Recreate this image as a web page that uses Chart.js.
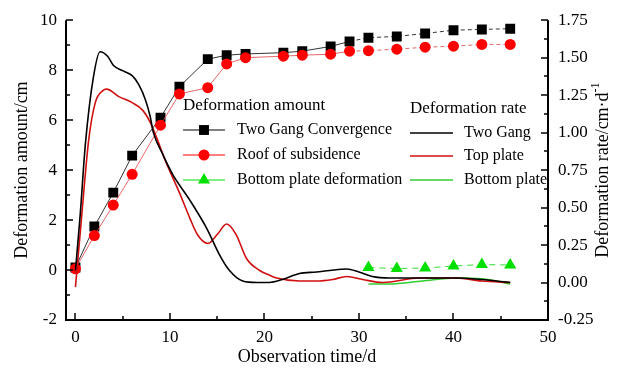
<!DOCTYPE html>
<html>
<head>
<meta charset="utf-8">
<script src="https://cdn.jsdelivr.net/npm/chart.js@4.4.0/dist/chart.umd.min.js"></script>
<style>
  html, body { margin: 0; padding: 0; background: #fff; }
  #wrap { width: 621px; height: 373px; }
</style>
</head>
<body>
<div id="wrap"><canvas id="c" width="621" height="373"></canvas></div>
<script>
// measured deformation amount (left axis, cm)
var days = [0, 2, 4, 6, 9, 11, 14, 16, 18, 22, 24, 27, 29, 31, 34, 37, 40, 43, 46];
var twoGang = [0.1, 1.74, 3.1, 4.58, 6.1, 7.34, 8.44, 8.6, 8.65, 8.7, 8.76, 8.95, 9.15, 9.3, 9.35, 9.47, 9.6, 9.63, 9.66];
var roof = [0.05, 1.38, 2.6, 3.83, 5.8, 7.05, 7.3, 8.25, 8.5, 8.56, 8.6, 8.64, 8.76, 8.78, 8.84, 8.92, 8.96, 9.03, 9.03];
var bottomDays = [31, 34, 37, 40, 43, 46];
var bottomAmt = [0.1, 0.06, 0.08, 0.16, 0.22, 0.2];

// deformation rate curves (right axis, cm/d)
var gangRateDays = [0, 0.5, 1.06, 1.9, 2.6, 3.4, 4.0, 5.1, 6.0, 6.7, 7.4, 7.9, 8.25, 9.2, 10.3, 12.1, 13.9, 15.2, 16.3, 17.7, 19.2, 20.5, 21.9, 23.7, 25.5, 26.9, 28.7, 30, 31.4, 33.2, 36.7, 40.3, 43, 46];
var gangRate = [0.08, 0.45, 0.93, 1.37, 1.54, 1.51, 1.45, 1.41, 1.38, 1.32, 1.22, 1.11, 1.0, 0.86, 0.72, 0.55, 0.36, 0.19, 0.08, 0.01, 0.0, 0.0, 0.02, 0.06, 0.07, 0.08, 0.09, 0.07, 0.04, 0.03, 0.03, 0.03, 0.02, 0.0];
var topRateDays = [0, 0.6, 1.4, 2.1, 2.9, 3.3, 4.6, 6.0, 7.1, 7.9, 8.5, 9.6, 11, 12.1, 12.9, 14, 15, 16, 17, 18.1, 19.5, 20.5, 21.3, 23.7, 25.5, 27.2, 28.7, 30.4, 32.5, 36.4, 40.3, 43, 46];
var topRate = [-0.03, 0.4, 0.95, 1.2, 1.28, 1.29, 1.24, 1.2, 1.15, 1.07, 0.98, 0.8, 0.6, 0.43, 0.32, 0.26, 0.32, 0.39, 0.32, 0.16, 0.08, 0.05, 0.03, 0.01, 0.01, 0.02, 0.04, 0.02, 0.0, 0.03, 0.03, 0.01, 0.0];
var botRateDays = [31, 33.2, 36.7, 40.3, 43, 46];
var botRate = [-0.01, -0.01, 0.01, 0.03, 0.025, -0.01];

// tick labels
var xTicks = [0, 10, 20, 30, 40, 50];
var yTicks = [-2, 0, 2, 4, 6, 8, 10];
var rateTicks = [-0.25, 0, 0.25, 0.5, 0.75, 1, 1.25, 1.5, 1.75];

var SERIF = '"Liberation Serif", "Times New Roman", serif';

function pts(xs, ys) {
    return xs.map(function (x, i) { return { x: x, y: ys[i] }; });
}

function setTicks(arr) {
    return function (scale) {
        scale.ticks = arr.map(function (v) { return { value: v }; });
    };
}

// axes with inward major/minor ticks, titles and the two legend blocks
var decor = {
    id: 'decor',
    afterDraw: function (chart) {
        var ctx = chart.ctx, a = chart.chartArea;
        var x = chart.scales.x, y = chart.scales.y, r = chart.scales.y1;
        ctx.save();
        ctx.strokeStyle = '#000';
        ctx.lineWidth = 2;
        ctx.beginPath();
        ctx.moveTo(a.left, a.top); ctx.lineTo(a.left, a.bottom); ctx.lineTo(a.right, a.bottom); ctx.lineTo(a.right, a.top);
        ctx.stroke();
        ctx.lineWidth = 1.5;
        ctx.beginPath();
        var v, p;
        for (v = -2; v <= 10; v += 1) {
            p = Math.round(y.getPixelForValue(v));
            ctx.moveTo(a.left, p); ctx.lineTo(a.left + (v % 2 === 0 ? 7 : 4), p);
        }
        for (v = -0.25; v <= 1.76; v += 0.125) {
            p = Math.round(r.getPixelForValue(v));
            var major = Math.abs(Math.round(v / 0.25) * 0.25 - v) < 1e-6;
            ctx.moveTo(a.right, p); ctx.lineTo(a.right - (major ? 7 : 4), p);
        }
        for (v = 0; v <= 50; v += 5) {
            p = Math.round(x.getPixelForValue(v));
            ctx.moveTo(p, a.bottom); ctx.lineTo(p, a.bottom - (v % 10 === 0 ? 7 : 4));
        }
        ctx.stroke();

        // axis titles
        ctx.fillStyle = '#000';
        ctx.font = '18px ' + SERIF;
        ctx.textAlign = 'center';
        ctx.textBaseline = 'middle';
        ctx.fillText('Observation time/d', (a.left + a.right) / 2, 357);
        ctx.save();
        ctx.translate(22, (a.top + a.bottom) / 2);
        ctx.rotate(-Math.PI / 2);
        ctx.fillText('Deformation amount/cm', 0, 0);
        ctx.restore();
        ctx.save();
        ctx.translate(603, (a.top + a.bottom) / 2);
        ctx.rotate(-Math.PI / 2);
        var main = 'Deformation rate/cm\u00b7d';
        var wMain = ctx.measureText(main).width;
        ctx.font = '12px ' + SERIF;
        var wSup = ctx.measureText('-1').width;
        var sx = -(wMain + wSup) / 2;
        ctx.font = '18px ' + SERIF;
        ctx.textAlign = 'left';
        ctx.fillText(main, sx, 0);
        ctx.font = '12px ' + SERIF;
        ctx.fillText('-1', sx + wMain, -7);
        ctx.restore();

        // legend: deformation amount
        ctx.textAlign = 'left';
        ctx.font = '17px ' + SERIF;
        ctx.fillText('Deformation amount', 183, 106);
        ctx.fillText('Deformation rate', 410, 109);
        ctx.font = '16px ' + SERIF;
        var amt = [
            { t: 'Two Gang Convergence', c: '#000', s: 'rect', rad: 7, y: 130 },
            { t: 'Roof of subsidence', c: '#ff0000', s: 'circle', rad: 5.5, y: 155 },
            { t: 'Bottom plate deformation', c: '#00e000', s: 'triangle', rad: 7, y: 180 }
        ];
        amt.forEach(function (e) {
            ctx.strokeStyle = e.c;
            ctx.lineWidth = 1;
            ctx.beginPath(); ctx.moveTo(183, e.y); ctx.lineTo(225, e.y); ctx.stroke();
            ctx.fillStyle = e.c;
            Chart.helpers.drawPoint(ctx, { pointStyle: e.s, radius: e.rad, rotation: 0, borderWidth: 0 }, 204, e.y);
            ctx.fillStyle = '#000';
            ctx.fillText(e.t, 237, e.y);
        });
        var rate = [
            { t: 'Two Gang', c: '#000', y: 133 },
            { t: 'Top plate', c: '#d01010', y: 156 },
            { t: 'Bottom plate', c: '#33cc33', y: 180 }
        ];
        rate.forEach(function (e) {
            ctx.strokeStyle = e.c;
            ctx.lineWidth = 1.6;
            ctx.beginPath(); ctx.moveTo(410, e.y); ctx.lineTo(453, e.y); ctx.stroke();
            ctx.fillStyle = '#000';
            ctx.fillText(e.t, 464, e.y);
        });
        ctx.restore();
    }
};

var dashAfter = function (from) {
    return { borderDash: function (c) { return c.p0.parsed.x >= from ? [4, 3] : undefined; } };
};

new Chart(document.getElementById('c'), {
    type: 'scatter',
    data: {
        datasets: [
            {
                label: 'Two Gang',
                data: pts(gangRateDays, gangRate),
                yAxisID: 'y1',
                showLine: true,
                borderColor: '#000',
                borderWidth: 1.6,
                pointRadius: 0,
                cubicInterpolationMode: 'monotone'
            },
            {
                label: 'Top plate',
                data: pts(topRateDays, topRate),
                yAxisID: 'y1',
                showLine: true,
                borderColor: '#d01010',
                borderWidth: 1.6,
                pointRadius: 0,
                cubicInterpolationMode: 'monotone'
            },
            {
                label: 'Bottom plate',
                data: pts(botRateDays, botRate),
                yAxisID: 'y1',
                showLine: true,
                borderColor: '#33cc33',
                borderWidth: 1.6,
                pointRadius: 0,
                cubicInterpolationMode: 'monotone'
            },
            {
                label: 'Roof of subsidence',
                data: pts(days, roof),
                yAxisID: 'y',
                showLine: true,
                borderColor: '#e04040',
                borderWidth: 0.8,
                segment: dashAfter(29),
                pointStyle: 'circle',
                pointRadius: 5.5,
                pointBorderWidth: 0,
                pointBackgroundColor: '#ff0000'
            },
            {
                label: 'Two Gang Convergence',
                data: pts(days, twoGang),
                yAxisID: 'y',
                showLine: true,
                borderColor: '#000',
                borderWidth: 0.8,
                segment: dashAfter(29),
                pointStyle: 'rect',
                pointRadius: 7,
                pointBorderWidth: 0,
                pointBackgroundColor: '#000'
            },
            {
                label: 'Bottom plate deformation',
                data: pts(bottomDays, bottomAmt),
                yAxisID: 'y',
                showLine: true,
                borderColor: '#33dd33',
                borderWidth: 1,
                borderDash: [6, 5],
                pointStyle: 'triangle',
                pointRadius: 7,
                pointBorderWidth: 0,
                pointBackgroundColor: '#00e000'
            }
        ]
    },
    options: {
        responsive: false,
        animation: false,
        devicePixelRatio: 1,
        layout: { padding: { top: 16, left: 0, right: 0, bottom: 0 } },
        plugins: { legend: { display: false }, tooltip: { enabled: false } },
        scales: {
            x: {
                type: 'linear',
                min: -1,
                max: 50,
                grid: { display: false, drawTicks: false },
                border: { display: false },
                afterBuildTicks: setTicks(xTicks),
                afterFit: function (s) { s.height = 53; },
                ticks: { color: '#000', padding: 7, font: { family: SERIF, size: 17 } }
            },
            y: {
                position: 'left',
                min: -2,
                max: 10,
                grid: { display: false, drawTicks: false },
                border: { display: false },
                afterBuildTicks: setTicks(yTicks),
                afterFit: function (s) { s.width = 66; },
                ticks: { color: '#000', padding: 9, font: { family: SERIF, size: 17 } }
            },
            y1: {
                position: 'right',
                min: -0.25,
                max: 1.75,
                grid: { display: false, drawTicks: false },
                border: { display: false },
                afterBuildTicks: setTicks(rateTicks),
                afterFit: function (s) { s.width = 73; },
                ticks: {
                    color: '#000', padding: 10, font: { family: SERIF, size: 17 },
                    callback: function (v) { return Number(v).toFixed(2); }
                }
            }
        }
    },
    plugins: [decor]
});
</script>
</body>
</html>
